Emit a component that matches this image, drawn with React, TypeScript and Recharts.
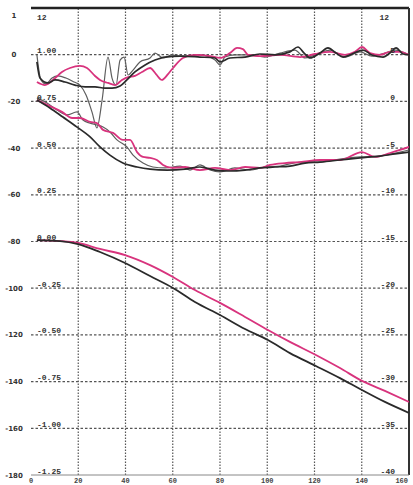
import React from "react";
import { LineChart, Line, XAxis, YAxis, ReferenceLine } from "recharts";

const xTicks = [0, 20, 40, 60, 80, 100, 120, 140, 160];
const xLabels = ["0", "20", "40", "60", "80", "100", "120", "140", "160"];
const yTicks = [20, 0, -20, -40, -60, -80, -100, -120, -140, -160, -180];
const outerLabels = ["1", "0", "-20", "-40", "-60", "-80", "-100", "-120", "-140", "-160", "-180"];
const innerLabels = ["12", "1.00", "0.75", "0.50", "0.25", "0.00", "-0.25", "-0.50", "-0.75", "-1.00", "-1.25"];
const rightLabels = ["12", "5", "0", "-5", "-10", "-15", "-20", "-25", "-30", "-35", "-40"];
const xGrid = [20, 40, 60, 80, 100, 120, 140];
const yGrid = [0, -20, -40, -60, -80, -100, -120, -140, -160];

const grayA = [[2.5,-0.1],[4.2,-10.8],[6.3,-12.5],[8.9,-10.0],[11.4,-9.1],[14.8,-10.0],[18.2,-11.7],[20.7,-13.0],[23.3,-17.3],[25.8,-24.5],[27.9,-31.4],[30.1,-19.4],[32.6,-1.0],[34.3,-10.0],[36.0,-13.0],[37.7,-2.3],[39.4,-1.0],[41.1,-8.7],[43.2,-6.6],[46.1,-3.1],[50.4,-1.4],[52.5,0.7],[55.9,-1.4],[59.7,-0.1],[63.1,-0.6],[71.5,-0.1],[77.9,-2.3],[80.0,-4.4],[82.1,-1.0],[86.3,-0.1],[92.7,-0.1],[99.0,-1.0],[105.4,0.7],[111.7,2.0],[116.0,-1.4],[120.2,-0.1],[126.6,2.0],[132.9,-1.0],[139.3,1.2],[144.3,-0.6],[149.8,0.7],[154.1,2.0],[160,-0.1]];
const blackA = [[2.5,-3.1],[3.8,-10.0],[7.2,-12.1],[10.2,-10.8],[14.4,-11.7],[18.6,-13.0],[22.9,-13.8],[27.1,-13.8],[31.3,-14.3],[34.3,-14.3],[37.7,-13.4],[40.6,-10.8],[44.0,-7.4],[48.3,-4.4],[52.5,-2.3],[56.7,-1.0],[63.1,-0.6],[71.5,-1.0],[77.9,-1.4],[80.0,-3.1],[84.2,-1.4],[90.6,-1.0],[96.9,0.3],[103.3,-0.1],[109.6,1.2],[113.0,3.3],[115.6,0.7],[118.1,-1.4],[122.3,0.7],[125.7,2.9],[129.1,0.7],[132.1,-1.0],[135.9,0.3],[140.5,2.0],[144.3,-0.1],[149.0,-1.0],[151.9,0.7],[154.5,2.9],[157.5,0.3],[160,-0.1]];
const pinkA = [[2.5,-11.7],[5.9,-13.0],[10.2,-10.0],[13.1,-7.4],[16.5,-5.7],[20.7,-4.8],[23.7,-5.7],[27.1,-9.1],[29.2,-10.8],[32.6,-12.1],[35.6,-13.0],[38.5,-10.8],[41.1,-9.6],[44.0,-9.1],[47.0,-7.4],[50.4,-5.7],[52.9,-8.3],[55.4,-10.8],[58.0,-8.3],[60.1,-5.7],[64.3,-1.4],[69.4,-0.1],[75.8,-0.6],[80.0,-1.4],[84.2,0.7],[87.2,2.9],[89.7,2.4],[91.9,-0.1],[96.9,-0.6],[105.4,-0.1],[113.9,-1.0],[120.2,0.3],[126.6,1.2],[132.9,-0.1],[137.1,1.2],[140.1,3.3],[143.5,0.7],[147.7,-0.1],[152.0,1.2],[156.2,1.2],[160,-0.1]];
const grayB = [[2.5,-18.5],[6.8,-20.7],[11.0,-23.7],[15.2,-25.8],[19.5,-24.5],[22.0,-28.0],[25.0,-29.3],[27.9,-30.1],[30.5,-31.0],[33.4,-33.1],[36.4,-36.5],[40.6,-39.5],[43.2,-43.0],[47.4,-46.4],[51.6,-48.1],[56.7,-48.5],[63.1,-47.7],[67.3,-49.4],[71.5,-47.2],[75.8,-49.4],[80.0,-50.2],[86.3,-48.5],[92.7,-49.4],[99.0,-48.1],[105.4,-47.7],[113.9,-46.0],[122.3,-46.0],[130.8,-44.7],[139.3,-43.8],[147.7,-43.4],[156.2,-41.7],[160,-40.8]];
const blackB = [[2.5,-19.4],[8.0,-22.8],[13.5,-26.7],[19.5,-31.0],[25.0,-35.2],[29.2,-39.5],[33.4,-43.0],[38.9,-46.4],[44.9,-48.1],[50.4,-49.0],[57.6,-49.4],[65.2,-49.0],[71.5,-48.1],[77.9,-49.4],[84.2,-49.8],[90.6,-49.4],[96.9,-48.5],[103.3,-48.1],[109.6,-47.7],[116.0,-46.4],[122.3,-46.0],[130.8,-45.1],[139.3,-44.2],[147.7,-43.4],[154.1,-42.5],[160,-41.7]];
const pinkB = [[2.5,-19.4],[8.0,-22.0],[13.1,-24.5],[17.4,-27.1],[20.7,-27.1],[25.0,-28.8],[27.9,-29.3],[30.5,-32.2],[34.7,-33.5],[38.9,-36.5],[41.9,-36.5],[44.9,-41.7],[47.4,-43.8],[50.4,-44.2],[53.3,-45.1],[55.9,-47.2],[59.7,-48.5],[65.2,-48.1],[71.5,-49.4],[77.9,-48.5],[84.2,-49.4],[90.6,-48.1],[96.9,-48.5],[101.2,-47.2],[107.5,-46.4],[113.9,-46.0],[122.3,-45.1],[130.8,-45.1],[140.1,-41.7],[145.6,-43.8],[152.0,-42.1],[156.2,-40.8],[160,-39.5]];
const pinkC = [[2.5,-79.4],[12.3,-79.8],[19.9,-80.6],[29.2,-83.2],[39.8,-85.8],[50.4,-90.1],[60.1,-95.2],[69.4,-100.8],[80.0,-106.3],[90.6,-112.3],[100.3,-117.9],[109.6,-123.0],[120.6,-128.6],[130.8,-134.2],[140.1,-139.7],[149.8,-144.0],[160,-148.7]];
const blackC = [[2.5,-79.4],[12.3,-79.8],[19.9,-81.1],[29.2,-84.5],[39.8,-89.2],[50.4,-94.8],[60.1,-99.9],[69.4,-105.9],[80.0,-111.5],[90.6,-117.5],[100.3,-122.2],[109.6,-127.8],[120.6,-133.3],[130.8,-138.5],[140.1,-143.6],[149.8,-148.7],[160,-153.4]];

const toPts = (a: number[][]) => a.map(([x, y]) => ({ x, y }));

const BLACK = "#2a2a2a";
const GRAY = "#5e5e5e";
const PINK = "#d8337d";
const MONO = "'Liberation Mono', 'DejaVu Sans Mono', monospace";

const YTick = (props: any) => {
  const { y, payload } = props;
  const i = yTicks.indexOf(payload.value);
  if (i < 0) return null;
  const top = i === 0;
  const by = top ? 20 : y - 1.5;
  return (
    <g fill="#333" fontWeight="bold">
      <text x={14} y={top ? 18 : y + 2.5} textAnchor="middle" fontSize={7} fontFamily="'DejaVu Sans', sans-serif">
        {outerLabels[i]}
      </text>
      <text x={37} y={by} fontSize={8} fontFamily={MONO}>
        {innerLabels[i]}
      </text>
      <text x={top ? 389 : 395} y={by} textAnchor="end" fontSize={8} fontFamily={MONO}>
        {rightLabels[i]}
      </text>
    </g>
  );
};

const XTick = (props: any) => {
  const { x, payload } = props;
  const i = xTicks.indexOf(payload.value);
  if (i < 0) return null;
  const last = i === xTicks.length - 1;
  return (
    <text
      x={last ? x - 1 : x}
      y={483}
      textAnchor={last ? "end" : "middle"}
      fontSize={7}
      fontWeight="bold"
      fill="#444"
      fontFamily={MONO}
    >
      {xLabels[i]}
    </text>
  );
};

export default function App() {
  const lines: [number[][], string, number][] = [
    [grayA, GRAY, 1.2],
    [grayB, GRAY, 1.2],
    [pinkA, PINK, 1.8],
    [pinkB, PINK, 1.8],
    [pinkC, PINK, 1.8],
    [blackA, BLACK, 1.7],
    [blackB, BLACK, 1.7],
    [blackC, BLACK, 1.8],
  ];
  return (
    <div style={{ position: "absolute", left: 0, top: 0, width: 413, height: 485, background: "#fff" }}>
      <LineChart width={413} height={485} margin={{ top: 8, right: 4, bottom: 0, left: 0 }}>
        <XAxis
          type="number"
          dataKey="x"
          domain={[0, 160]}
          ticks={xTicks}
          interval={0}
          height={10}
          tick={XTick}
          tickLine={false}
          axisLine={{ stroke: "#888", strokeWidth: 1 }}
          allowDataOverflow
        />
        <YAxis
          type="number"
          domain={[-180, 20]}
          ticks={yTicks}
          interval={0}
          width={31}
          tick={YTick}
          tickLine={false}
          axisLine={false}
          allowDataOverflow
        />
        {xGrid.map((v) => (
          <ReferenceLine key={"vx" + v} x={v} stroke="#555" strokeWidth={1.2} strokeDasharray="1.5 1.5" />
        ))}
        {yGrid.map((v) => (
          <ReferenceLine key={"hy" + v} y={v} stroke="#555" strokeWidth={1.2} strokeDasharray="2.5 2" />
        ))}
        <ReferenceLine y={20} stroke="#222" strokeWidth={2.5} />
        <ReferenceLine x={160} stroke="#333" strokeWidth={2} />
        {lines.map(([d, c, w], k) => (
          <Line
            key={k}
            data={toPts(d)}
            dataKey="y"
            type="monotone"
            stroke={c}
            strokeWidth={w}
            dot={false}
            isAnimationActive={false}
          />
        ))}
      </LineChart>
    </div>
  );
}
